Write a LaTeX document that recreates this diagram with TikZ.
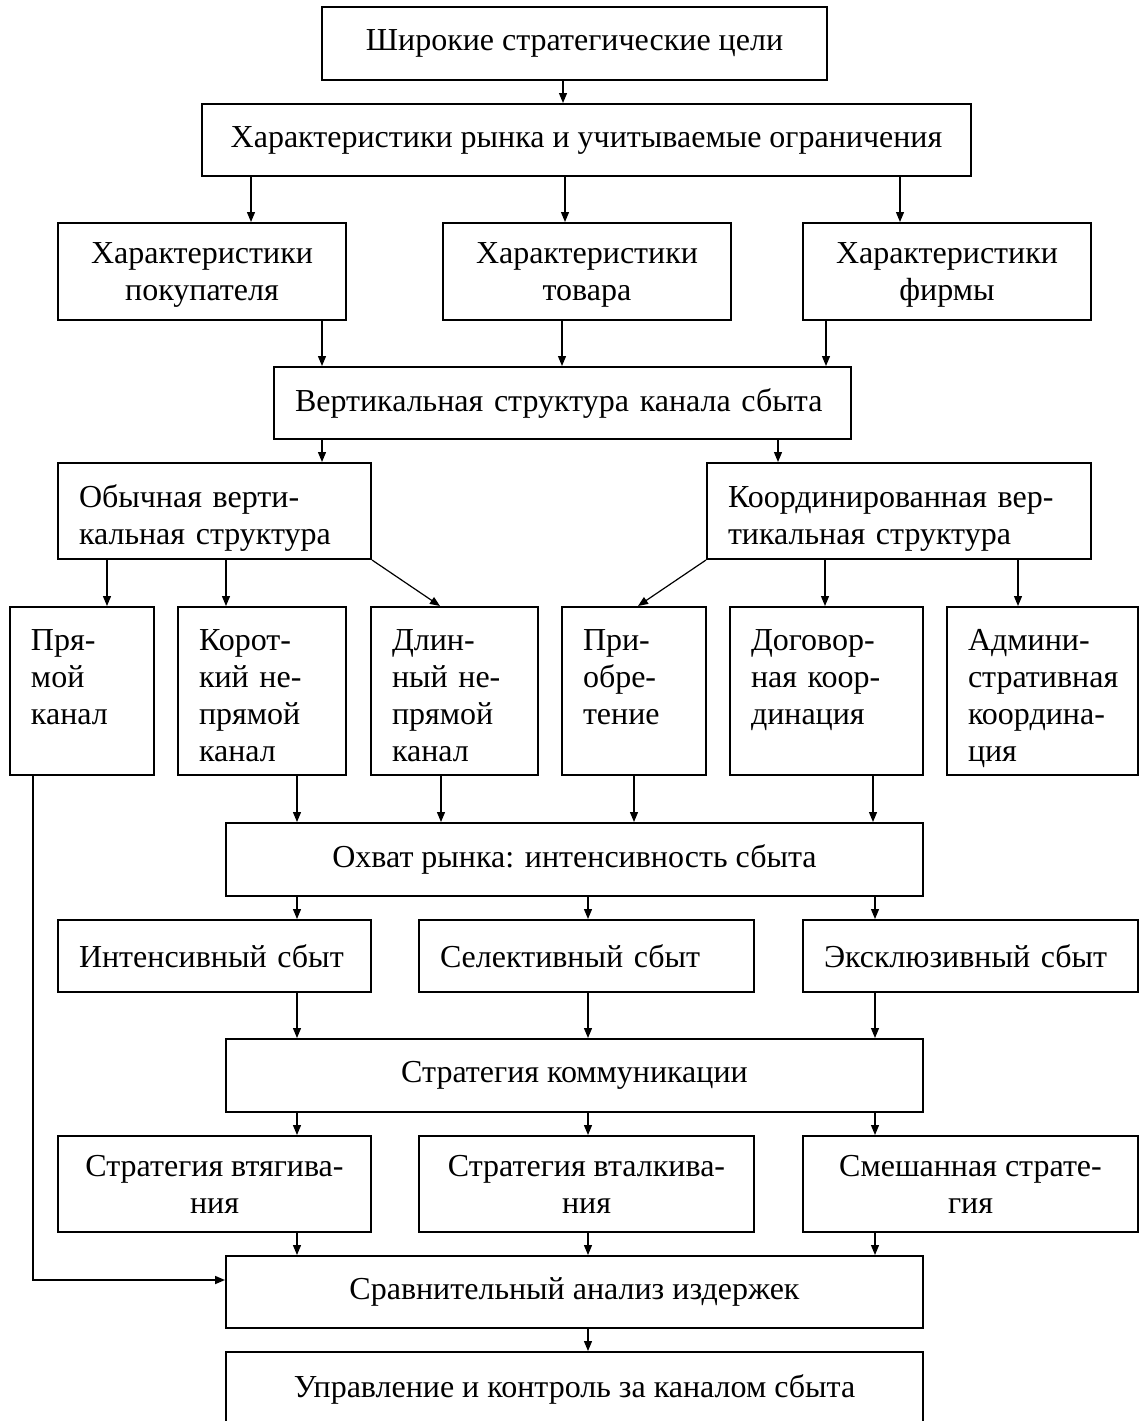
\documentclass[tikz,border=0pt]{standalone}
\usepackage{fontspec}
\setmainfont{Liberation Serif}
\usetikzlibrary{arrows.meta, positioning}
\hyphenpenalty=10000

\begin{document}
\begin{tikzpicture}[
    x=0.5pt, y=-0.5pt,
    font=\fontsize{16}{18.5}\selectfont,
    box/.style={rectangle, draw=black, line width=1pt, align=center, inner sep=0pt},
    mbox/.style={box, text depth=0pt},
    lbox/.style={box, align=left, inner xsep=10.5pt},
    wbox/.style={lbox, minimum height=48pt, text height=22pt, text depth=26pt},
    tbox/.style={lbox, minimum height=84pt, text height=21.5pt, text depth=62.5pt},
    arrow/.style={-{Triangle[length=5pt, width=4pt]}, line width=0.6pt}
]
    \useasboundingbox (0,0) rectangle (1140,1421);
    \clip (0,0) rectangle (1140,1421);

    % Goals and market
    \node[box, minimum width=252.5pt, minimum height=36.5pt] (goals) at (574.5,43.5) {Широкие стратегические цели};
    \node[box, minimum width=384.5pt, minimum height=36pt] (market) at (586.5,140) {Характеристики рынка и учитываемые ограничения};

    % Characteristics
    \node[mbox, minimum width=144pt, minimum height=48.5pt] (buyer) at (202,271.5) {Характеристики\\покупателя};
    \node[mbox, minimum width=144pt, minimum height=48.5pt] (product) at (587,271.5) {Характеристики\\товара};
    \node[mbox, minimum width=144pt, minimum height=48.5pt] (firm) at (947,271.5) {Характеристики\\фирмы};

    % Vertical structure
    \node[lbox, text width=267.5pt, minimum height=36pt] (vert) at (562.5,403) {Вертикальная структура канала сбыта};
    \node[wbox, text width=135.5pt] (usual) at (214.5,511) {Обычная верти-\\кальная структура};
    \node[wbox, text width=171pt] (coord) at (899,511) {Координированная вер-\\тикальная структура};

    % Channels
    \node[tbox, text width=51pt] (direct) at (82,691) {Пря-\\мой\\канал};
    \node[tbox, text width=63pt] (short) at (262,691) {Корот-\\кий не-\\прямой\\канал};
    \node[tbox, text width=62.5pt] (long) at (454.5,691) {Длин-\\ный не-\\прямой\\канал};
    \node[tbox, text width=51pt] (acq) at (634,691) {При-\\обре-\\тение};
    \node[tbox, text width=75.5pt] (contract) at (826.5,691) {Договор-\\ная коор-\\динация};
    \node[tbox, text width=74.5pt] (admin) at (1042.5,691) {Админи-\\стративная\\координа-\\ция};

    % Market coverage
    \node[box, minimum width=348.5pt, minimum height=36.5pt] (cover) at (574.5,859.5) {Охват рынка: интенсивность сбыта};
    \node[lbox, text width=135.5pt, minimum height=36pt] (intens) at (214.5,956) {Интенсивный сбыт};
    \node[lbox, text width=146.5pt, minimum height=36pt] (select) at (586.5,956) {Селективный сбыт};
    \node[lbox, text width=146.5pt, minimum height=36pt] (excl) at (970.5,956) {Эксклюзивный сбыт};

    % Communication
    \node[box, minimum width=348.5pt, minimum height=36.5pt] (comm) at (574.5,1075.5) {Стратегия коммуникации};
    \node[mbox, minimum width=156.5pt, minimum height=48pt] (pull) at (214.5,1184) {Стратегия втягива-\\ния};
    \node[mbox, minimum width=167.5pt, minimum height=48pt] (push) at (586.5,1184) {Стратегия вталкива-\\ния};
    \node[mbox, minimum width=167.5pt, minimum height=48pt] (mixed) at (970.5,1184) {Смешанная страте-\\гия};

    % Costs and control
    \node[box, minimum width=348.5pt, minimum height=36pt] (cost) at (574.5,1292) {Сравнительный анализ издержек};
    \node[box, minimum width=348.5pt, minimum height=37pt] (control) at (574.5,1389) {Управление и контроль за каналом сбыта};

    % Connections
    \draw[arrow] (goals.south -| 563,0) -- (market.north -| 563,0);
    \draw[arrow] (market.south -| 251,0) -- (buyer.north -| 251,0);
    \draw[arrow] (market.south -| 565,0) -- (product.north -| 565,0);
    \draw[arrow] (market.south -| 900,0) -- (firm.north -| 900,0);
    \draw[arrow] (buyer.south -| 322,0) -- (vert.north -| 322,0);
    \draw[arrow] (product.south -| 562,0) -- (vert.north -| 562,0);
    \draw[arrow] (firm.south -| 826,0) -- (vert.north -| 826,0);
    \draw[arrow] (vert.south -| 322,0) -- (usual.north -| 322,0);
    \draw[arrow] (vert.south -| 778,0) -- (coord.north -| 778,0);

    \draw[arrow] (usual.south -| 107,0) -- (direct.north -| 107,0);
    \draw[arrow] (usual.south -| 226,0) -- (short.north -| 226,0);
    \draw[arrow] (usual.south east) -- (long.north -| 440,0);
    \draw[arrow] (coord.south west) -- (acq.north -| 638,0);
    \draw[arrow] (coord.south -| 825,0) -- (contract.north -| 825,0);
    \draw[arrow] (coord.south -| 1018,0) -- (admin.north -| 1018,0);

    \draw[arrow] (short.south -| 297,0) -- (cover.north -| 297,0);
    \draw[arrow] (long.south -| 441,0) -- (cover.north -| 441,0);
    \draw[arrow] (acq.south -| 634,0) -- (cover.north -| 634,0);
    \draw[arrow] (contract.south -| 873,0) -- (cover.north -| 873,0);

    \draw[arrow] (cover.south -| 297,0) -- (intens.north -| 297,0);
    \draw[arrow] (cover.south -| 588,0) -- (select.north -| 588,0);
    \draw[arrow] (cover.south -| 875,0) -- (excl.north -| 875,0);
    \draw[arrow] (intens.south -| 297,0) -- (comm.north -| 297,0);
    \draw[arrow] (select.south -| 588,0) -- (comm.north -| 588,0);
    \draw[arrow] (excl.south -| 875,0) -- (comm.north -| 875,0);

    \draw[arrow] (comm.south -| 297,0) -- (pull.north -| 297,0);
    \draw[arrow] (comm.south -| 588,0) -- (push.north -| 588,0);
    \draw[arrow] (comm.south -| 875,0) -- (mixed.north -| 875,0);
    \draw[arrow] (pull.south -| 297,0) -- (cost.north -| 297,0);
    \draw[arrow] (push.south -| 588,0) -- (cost.north -| 588,0);
    \draw[arrow] (mixed.south -| 875,0) -- (cost.north -| 875,0);
    \draw[arrow] (cost.south -| 588,0) -- (control.north -| 588,0);

    % Direct channel to costs
    \draw[arrow, line width=0.8pt] (direct.south -| 33,0) |- ([yshift=6pt]cost.west);

\end{tikzpicture}
\end{document}
